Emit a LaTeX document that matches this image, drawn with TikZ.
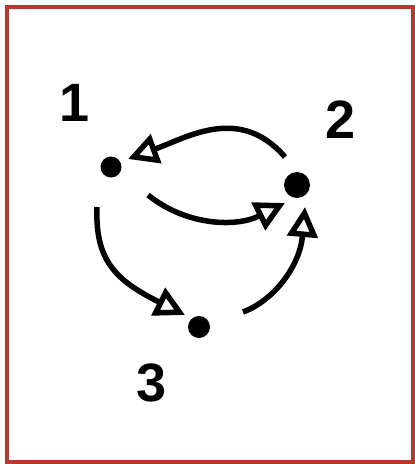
\documentclass[tikz,border=0pt]{standalone}
\usepackage{fontspec}
\setmainfont{Liberation Sans}
\usetikzlibrary{arrows.meta}
\definecolor{framered}{RGB}{185,56,45}
\tikzset{
  dot/.style={circle, fill=black, inner sep=0pt},
  lbl/.style={inner sep=0pt, font=\fontsize{54}{54}\selectfont\bfseries},
  flow/.style={line width=5.5pt, -{Triangle[open, length=30pt, width=30pt]}}
}
\begin{document}
\begin{tikzpicture}[x=1pt, y=-1pt]
\useasboundingbox (0,0) rectangle (415,464);
\draw[framered, line width=4pt] (6.5,6.5) rectangle (413,462);
% dots
\node[dot, minimum size=21pt] (n1) at (111,167) {};
\node[dot, minimum size=26pt] (n2) at (297,185) {};
\node[dot, minimum size=22pt] (n3) at (199,327) {};
% labels
\node[lbl] (l1) at (75,103) {1};
\node[lbl] (l2) at (341,120) {2};
\node[lbl] (l3) at (152,383) {3};
% arrow endpoints
\coordinate (a0) at (285,157);
\coordinate (a1) at (128,159);
\coordinate (b0) at (148,195);
\coordinate (b1) at (285,203);
\coordinate (c0) at (97,207);
\coordinate (c1) at (185,315);
\coordinate (d0) at (243,312);
\coordinate (d1) at (305,207);
% arrows
\draw[flow] (a0) .. controls (240,105) and (188,137) .. (a1);
\draw[flow] (b0) .. controls (185,225) and (235,228) .. (b1);
\draw[flow] (c0) .. controls (95,260) and (115,280) .. (c1);
\draw[flow] (d0) .. controls (275,300) and (300,265) .. (d1);
\end{tikzpicture}
\end{document}
